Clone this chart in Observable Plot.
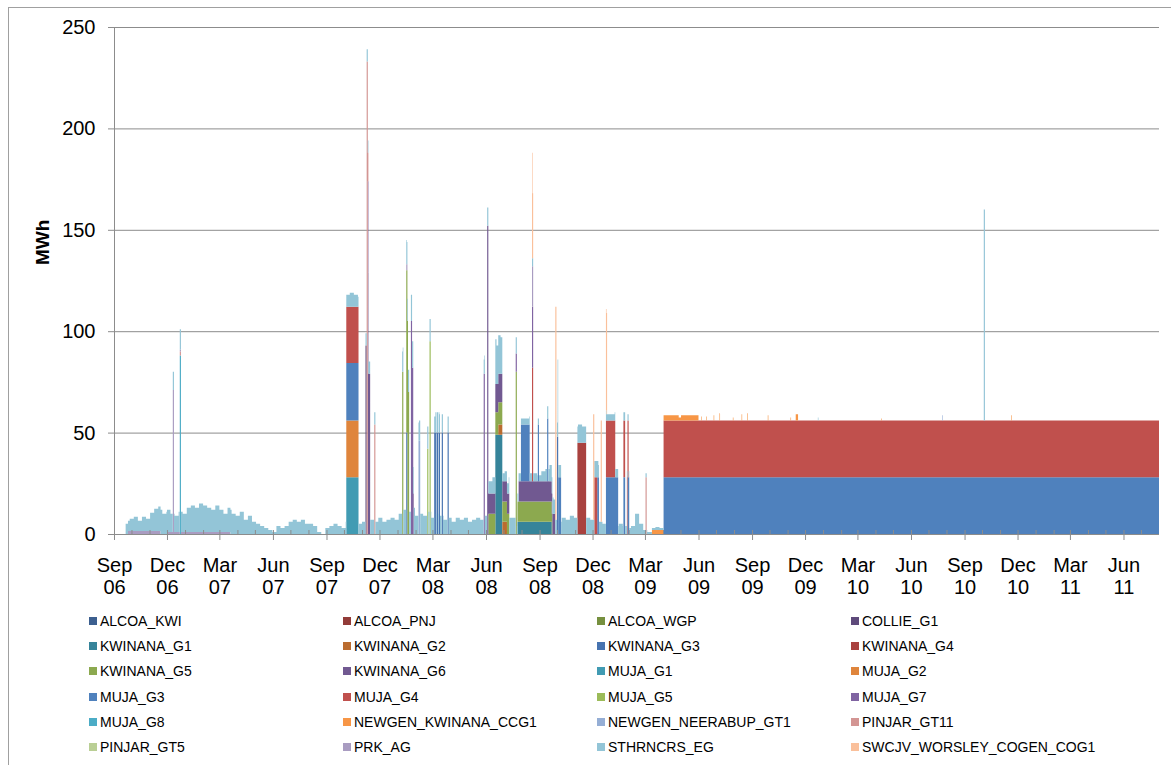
<!DOCTYPE html>
<html><head><meta charset="utf-8">
<script src="https://cdn.jsdelivr.net/npm/d3@7"></script>
<script src="https://cdn.jsdelivr.net/npm/@observablehq/plot@0.6"></script>
<style>
body{margin:0;background:#fff;font-family:"Liberation Sans",Arial,sans-serif;}
#wrap{position:relative;width:1171px;height:765px;overflow:hidden;background:#fff;}
#border{position:absolute;left:8px;top:7px;width:1200px;height:800px;border-top:1px solid #a0a0a0;border-left:1px solid #a0a0a0;}
#chart{position:absolute;left:0;top:0;}
#legend{position:absolute;left:89px;top:613px;display:grid;grid-template-columns:repeat(4,254px);grid-auto-rows:25.2px;font-size:14px;color:#000;}
.item{display:flex;align-items:center;height:16px;white-space:nowrap;}
.sw{width:8px;height:8px;margin-right:3px;flex:none;}
</style></head><body>
<div id="wrap"><div id="border"></div><div id="chart"></div><div id="legend"></div></div>
<script>
// ---------- series & colours ----------
const SERIES = ["ALCOA_KWI","ALCOA_PNJ","ALCOA_WGP","COLLIE_G1","KWINANA_G1","KWINANA_G2","KWINANA_G3","KWINANA_G4",
  "KWINANA_G5","KWINANA_G6","MUJA_G1","MUJA_G2","MUJA_G3","MUJA_G4","MUJA_G5","MUJA_G7","MUJA_G8",
  "NEWGEN_KWINANA_CCG1","NEWGEN_NEERABUP_GT1","PINJAR_GT11","PINJAR_GT5","PRK_AG","STHRNCRS_EG","SWCJV_WORSLEY_COGEN_COG1"];
const COLORS = ["#3C5F8F","#923B38","#76903F","#5E4A7B","#36849A","#BA6C2F","#4673B0","#A9423F",
  "#8CA94F","#715991","#419BB3","#DF853C","#4F81BD","#C0504D","#9BBB59","#8064A2","#4BACC6",
  "#F79646","#95AED5","#D39593","#BACF95","#A99CC1","#93C5D7","#FAC09B"];

// ---------- axes ----------
const X_DOMAIN = ["2006-09-01","2011-08-01"];
const X_TICKS = ["2006-09-01","2006-12-01","2007-03-01","2007-06-01","2007-09-01","2007-12-01","2008-03-01","2008-06-01",
  "2008-09-01","2008-12-01","2009-03-01","2009-06-01","2009-09-01","2009-12-01","2010-03-01","2010-06-01",
  "2010-09-01","2010-12-01","2011-03-01","2011-06-01"];
const X_LABELS = ["Sep\n06","Dec\n06","Mar\n07","Jun\n07","Sep\n07","Dec\n07","Mar\n08","Jun\n08","Sep\n08","Dec\n08",
  "Mar\n09","Jun\n09","Sep\n09","Dec\n09","Mar\n10","Jun\n10","Sep\n10","Dec\n10","Mar\n11","Jun\n11"];
const Y_TICKS = [0,50,100,150,200,250];

// ---------- STHRNCRS_EG weekly background (MWh), weeks from 2006-09-21 ----------
const STH_START = "2006-09-21";
const STH_WEEKLY = [5,6,7,5,7,6,9,11,12,10, 11,9,8,10,9,12,13,12,14,13, 12,11,13,11,9,12,10,9,11,7,
  9,6,5,4,3,2,1,4,3,4, 6,7,6,7,5,5,4,1,0,3, 4,5,4,3,6,7,6,5,6,6,
  7,6,8,6,7,8,7,10,12,11, 13,9,10,9,11,8,10,9,7,8, 6,8,7,8,6,7,8,7,9,6,
  8,5,4,5,8,8,4,3,3,4, 4,3,5,6,8,7,6,8,7,9, 8,9,8,8,7,8,6,5,3,3,
  4,5,4,3,4,10,5,2,1,1, 1.5,1];

// ---------- segments: [series, from, to(excl), MWh] ----------
const SEG_2006 = [
  ["PRK_AG","2006-09-25","2006-11-20",1.5],
  ["PRK_AG","2006-12-01","2007-03-20",1],
  ["PRK_AG","2006-12-11","2006-12-13",70],
  ["MUJA_G8","2006-12-23","2006-12-25",88],
  ["PINJAR_GT11","2006-12-23","2006-12-25",2]
];
const SEG_OCT07 = [
  ["MUJA_G1","2007-10-05","2007-10-26",28],
  ["MUJA_G2","2007-10-05","2007-10-26",28],
  ["MUJA_G3","2007-10-05","2007-10-26",28.3],
  ["MUJA_G4","2007-10-05","2007-10-26",27.7]
];
const SEG_NOV07 = [
  ["COLLIE_G1","2007-11-07","2007-11-09",93],
  ["PINJAR_GT11","2007-11-09","2007-11-11",233],
  ["KWINANA_G6","2007-11-11","2007-11-12",129],
  ["MUJA_G7","2007-11-11","2007-11-12",45],
  ["PINJAR_GT11","2007-11-11","2007-11-12",14],
  ["KWINANA_G6","2007-11-12","2007-11-15",79],
  ["PINJAR_GT11","2007-11-22","2007-11-24",54]
];
const SEG_EARLY08 = [
  ["KWINANA_G5","2008-01-09","2008-01-11",80],
  ["KWINANA_G3","2008-01-16","2008-01-18",50],
  ["KWINANA_G5","2008-01-16","2008-01-18",80],
  ["PRK_AG","2008-01-16","2008-01-18",3],
  ["KWINANA_G5","2008-01-18","2008-01-19",105],
  ["KWINANA_G5","2008-01-19","2008-01-21",70],
  ["MUJA_G7","2008-01-24","2008-01-26",105],
  ["MUJA_G7","2008-01-26","2008-01-28",82],
  ["KWINANA_G6","2008-01-28","2008-01-29",20],
  ["NEWGEN_NEERABUP_GT1","2008-02-06","2008-02-09",46],
  ["MUJA_G5","2008-02-21","2008-02-23",42],
  ["MUJA_G5","2008-02-25","2008-02-27",95],
  ["KWINANA_G3","2008-03-04","2008-03-07",50],
  ["KWINANA_G3","2008-03-08","2008-03-11",50],
  ["KWINANA_G3","2008-03-12","2008-03-14",50],
  ["KWINANA_G3","2008-03-17","2008-03-19",50],
  ["KWINANA_G3","2008-03-27","2008-03-29",50]
];
const SEG_MID08 = [
  ["MUJA_G7","2008-05-28","2008-05-30",79],
  ["KWINANA_G6","2008-06-03","2008-06-05",152],
  ["KWINANA_G5","2008-06-05","2008-06-17",10],
  ["KWINANA_G6","2008-06-05","2008-06-17",10],
  ["KWINANA_G1","2008-06-17","2008-06-29",49],
  ["KWINANA_G2","2008-06-22","2008-06-29",5],
  ["KWINANA_G5","2008-06-17","2008-06-29",11],
  ["KWINANA_G6","2008-06-17","2008-06-29",14],
  ["STHRNCRS_EG","2008-06-17","2008-06-29",14],
  ["KWINANA_G2","2008-06-29","2008-07-07",6],
  ["KWINANA_G5","2008-06-29","2008-07-11",10],
  ["KWINANA_G6","2008-06-29","2008-07-11",10],
  ["KWINANA_G5","2008-07-22","2008-07-24",80],
  ["MUJA_G7","2008-07-22","2008-07-24",9],
  ["KWINANA_G1","2008-07-25","2008-09-22",6],
  ["KWINANA_G5","2008-07-25","2008-09-23",10],
  ["KWINANA_G6","2008-07-27","2008-09-28",10],
  ["MUJA_G3","2008-07-31","2008-08-15",28],
  ["MUJA_G4","2008-08-19","2008-08-21",56],
  ["MUJA_G7","2008-08-19","2008-08-21",30],
  ["PRK_AG","2008-08-19","2008-08-21",20],
  ["SWCJV_WORSLEY_COGEN_COG1","2008-08-19","2008-08-20",52],
  ["SWCJV_WORSLEY_COGEN_COG1","2008-08-20","2008-08-21",32],
  ["MUJA_G3","2008-08-29","2008-08-31",28],
  ["MUJA_G3","2008-09-14","2008-09-16",31],
  ["SWCJV_WORSLEY_COGEN_COG1","2008-09-28","2008-09-30",105],
  ["KWINANA_G3","2008-10-01","2008-10-03",48],
  ["STHRNCRS_EG","2008-10-02","2008-10-03",32],
  ["MUJA_G3","2008-10-03","2008-10-08",28]
];
const SEG_LATE08 = [
  ["KWINANA_G4","2008-11-05","2008-11-20",45],
  ["SWCJV_WORSLEY_COGEN_COG1","2008-12-02","2008-12-04",52],
  ["MUJA_G4","2008-12-04","2008-12-09",28],
  ["MUJA_G3","2008-12-09","2008-12-12",28],
  ["SWCJV_WORSLEY_COGEN_COG1","2008-12-15","2008-12-17",50],
  ["MUJA_G3","2008-12-24","2009-01-09",28],
  ["MUJA_G4","2008-12-24","2009-01-09",28],
  ["SWCJV_WORSLEY_COGEN_COG1","2008-12-24","2008-12-26",50],
  ["MUJA_G3","2009-01-09","2009-01-14",28],
  ["MUJA_G3","2009-01-23","2009-01-26",28],
  ["MUJA_G4","2009-01-23","2009-01-26",28],
  ["MUJA_G3","2009-01-30","2009-02-02",28],
  ["MUJA_G4","2009-01-29","2009-02-01",28],
  ["PINJAR_GT11","2009-03-02","2009-03-04",28],
  ["NEWGEN_KWINANA_CCG1","2009-03-13","2009-04-02",2]
];
const SEG_2009_2011 = [
  ["MUJA_G3","2009-04-02","2011-08-01",28],
  ["MUJA_G4","2009-04-02","2011-08-01",28],
  ["NEWGEN_KWINANA_CCG1","2009-04-02","2009-04-28",2.6],
  ["NEWGEN_KWINANA_CCG1","2009-04-28","2009-05-02",1.5],
  ["NEWGEN_KWINANA_CCG1","2009-05-02","2009-06-01",2.6],
  ["NEWGEN_KWINANA_CCG1","2009-06-06","2009-06-07",2],
  ["NEWGEN_KWINANA_CCG1","2009-06-14","2009-06-15",2],
  ["NEWGEN_KWINANA_CCG1","2009-06-27","2009-06-28",2.5],
  ["NEWGEN_KWINANA_CCG1","2009-07-07","2009-07-08",3.6],
  ["NEWGEN_KWINANA_CCG1","2009-07-30","2009-07-31",1.5],
  ["NEWGEN_KWINANA_CCG1","2009-08-14","2009-08-15",3],
  ["NEWGEN_KWINANA_CCG1","2009-08-24","2009-08-25",3.5],
  ["NEWGEN_KWINANA_CCG1","2009-09-28","2009-09-29",2.5],
  ["NEWGEN_KWINANA_CCG1","2009-11-06","2009-11-07",1.5],
  ["NEWGEN_KWINANA_CCG1","2009-11-15","2009-11-19",3],
  ["STHRNCRS_EG","2009-12-23","2009-12-24",1.5],
  ["NEWGEN_KWINANA_CCG1","2010-04-11","2010-04-12",1],
  ["NEWGEN_NEERABUP_GT1","2010-07-25","2010-07-26",2.5],
  ["STHRNCRS_EG","2010-10-04","2010-10-06",104],
  ["NEWGEN_KWINANA_CCG1","2010-11-20","2010-11-21",2.5]
];

// ---------- build daily table ----------
const parse = d3.utcParse("%Y-%m-%d");
const t0 = parse(X_DOMAIN[0]), t1 = parse(X_DOMAIN[1]);
const days = d3.utcDay.range(t0, t1);
const N = days.length;
const sIndex = new Map(SERIES.map((s, i) => [s, i]));
const grid = SERIES.map(() => new Float64Array(N));
function addSeg(s, a, b, v) {
  const i0 = d3.utcDay.count(t0, a), i1 = d3.utcDay.count(t0, b);
  const g = grid[sIndex.get(s)];
  for (let i = Math.max(0, i0); i < Math.min(N, i1); i++) g[i] += v;
}
const sthStart = parse(STH_START);
STH_WEEKLY.forEach((v, k) => addSeg("STHRNCRS_EG", d3.utcDay.offset(sthStart, 7 * k), d3.utcDay.offset(sthStart, 7 * k + 7), v));
[SEG_2006, SEG_OCT07, SEG_NOV07, SEG_EARLY08, SEG_MID08, SEG_LATE08, SEG_2009_2011]
  .forEach(list => list.forEach(([s, a, b, v]) => addSeg(s, parse(a), parse(b), v)));

const rows = [];
SERIES.forEach((s, si) => {
  for (let i = 0; i <= N; i++) rows.push({date: i < N ? days[i] : t1, series: s, value: grid[si][Math.min(i, N - 1)]});
});

const tickDates = X_TICKS.map(parse);
const labelOf = new Map(tickDates.map((d, i) => [+d, X_LABELS[i]]));
const monthTicks = d3.utcMonth.range(t0, t1);

const chart = Plot.plot({
  width: 1171, height: 612,
  marginLeft: 114, marginRight: 12, marginTop: 27, marginBottom: 78,
  style: {fontFamily: "'Liberation Sans', Arial, sans-serif", fontSize: "20px", color: "#000", background: "transparent"},
  x: {type: "utc", domain: [t0, t1]},
  y: {domain: [0, 250]},
  color: {domain: SERIES, range: COLORS},
  marks: [
    Plot.gridY(Y_TICKS.filter(d => d > 0), {stroke: "#8c8c8c", strokeOpacity: 1}),
    Plot.areaY(rows, Plot.stackY({x: "date", y: "value", z: "series", fill: "series", order: SERIES, curve: "step-after"})),
    Plot.axisX(monthTicks, {tickSize: -4, tickFormat: () => "", label: null, stroke: "#8c8c8c"}),
    Plot.ruleY([0], {stroke: "#8c8c8c"}),
    Plot.ruleX([t0], {stroke: "#8c8c8c"}),
    Plot.axisY(Y_TICKS, {tickSize: 6, tickPadding: 13, stroke: "#8c8c8c", label: null, fontSize: 20}),
    Plot.axisX(tickDates, {tickSize: 6, tickPadding: 16, stroke: "#8c8c8c", label: null, fontSize: 20, lineHeight: 1.1,
      tickFormat: d => labelOf.get(+d)}),
    Plot.text(["MWh"], {frameAnchor: "left", dx: -72, dy: -16, rotate: -90, fontSize: 19, fontWeight: "bold"})
  ]
});
document.getElementById("chart").appendChild(chart);

// ---------- legend ----------
const legend = document.getElementById("legend");
SERIES.forEach((s, i) => {
  const item = document.createElement("div");
  item.className = "item";
  item.innerHTML = `<span class="sw" style="background:${COLORS[i]}"></span><span>${s}</span>`;
  legend.appendChild(item);
});
</script>
</body></html>
